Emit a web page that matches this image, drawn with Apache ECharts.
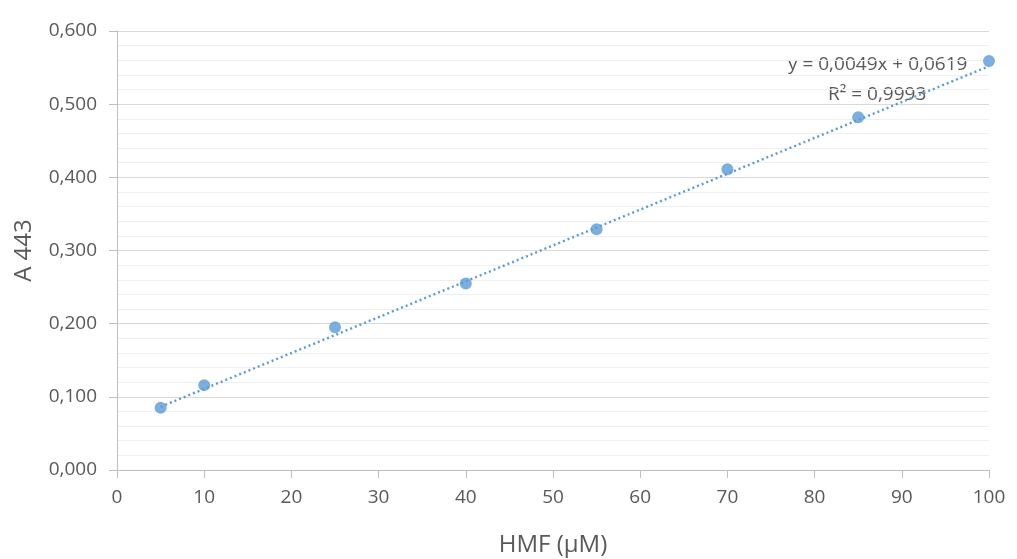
<!DOCTYPE html>
<html>
<head>
<meta charset="utf-8">
<script src="https://cdn.jsdelivr.net/npm/echarts@6/dist/echarts.min.js"></script>
<style>html,body{margin:0;padding:0;background:#fff;}#c{width:1017px;height:559px;}</style>
</head>
<body>
<div id="c"></div>
<script>
var hmf = [5, 10, 25, 40, 55, 70, 85, 100];
var absorbance = [0.085, 0.116, 0.195, 0.255, 0.329, 0.411, 0.482, 0.559];
var slope = 0.0049;
var intercept = 0.0619;
var equationText = 'y = 0,0049x + 0,0619';
var r2Text = 'R² = 0,9993';

var points = hmf.map(function (x, i) { return [x, absorbance[i]]; });
var xmin = Math.min.apply(null, hmf), xmax = Math.max.apply(null, hmf);
var trend = [[xmin, slope * xmin + intercept], [xmax, slope * xmax + intercept]];

var chart = echarts.init(document.getElementById('c'));
var font = 'Open Sans';
chart.setOption({
  animation: false,
  grid: {left: 117, right: 28, top: 31, bottom: 89, containLabel: false, outerBoundsMode: 'none'},
  xAxis: {
    type: 'value', min: 0, max: 100, interval: 10,
    name: 'HMF (µM)', nameLocation: 'middle', nameGap: 63,
    nameTextStyle: {color: '#595959', fontSize: 24, fontFamily: font},
    axisLine: {show: true, lineStyle: {color: '#bfbfbf'}},
    axisTick: {show: true, length: 8, lineStyle: {color: '#bfbfbf'}},
    axisLabel: {color: '#595959', fontSize: 19, fontFamily: font, margin: 18},
    splitLine: {show: false}
  },
  yAxis: {
    type: 'value', min: 0, max: 0.6, interval: 0.1,
    name: 'A 443', nameLocation: 'middle', nameGap: 81,
    nameTextStyle: {color: '#595959', fontSize: 24, fontFamily: font},
    axisLine: {show: true, lineStyle: {color: '#bfbfbf'}},
    axisTick: {show: true, length: 8, lineStyle: {color: '#bfbfbf'}},
    axisLabel: {color: '#595959', fontSize: 19, fontFamily: font, margin: 20,
      formatter: function (v) { return v.toFixed(3).replace('.', ','); }},
    splitLine: {show: true, lineStyle: {color: '#d9d9d9'}},
    minorTick: {show: false, splitNumber: 5},
    minorSplitLine: {show: true, lineStyle: {color: '#efefef'}}
  },
  series: [
    {
      type: 'line', data: trend, symbol: 'none', silent: true,
      lineStyle: {color: '#5b9bd5', width: 2.4, type: [2, 3]}, z: 2
    },
    {
      type: 'scatter', data: points, symbolSize: 12,
      itemStyle: {color: '#5b9bd5'}, z: 3
    }
  ],
  graphic: [
    {type: 'text', left: 788, top: 55, style: {text: equationText, fill: '#595959', font: '19px "Open Sans"'}},
    {type: 'text', left: 828, top: 85, style: {text: r2Text, fill: '#595959', font: '19px "Open Sans"'}}
  ]
});
</script>
</body>
</html>
